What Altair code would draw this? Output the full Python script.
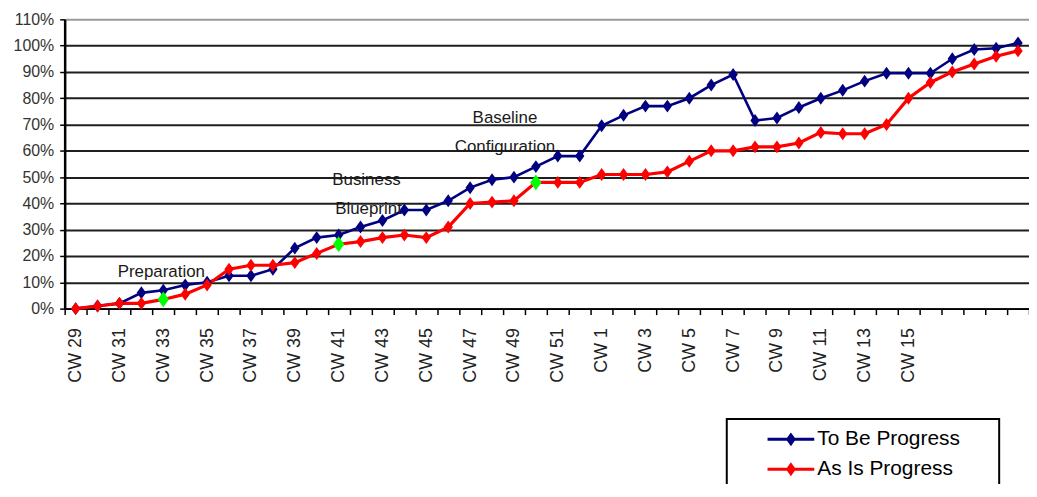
import altair as alt
import pandas as pd

# ---------------- data ----------------
WEEKS = ["CW 29", "CW 30", "CW 31", "CW 32", "CW 33", "CW 34", "CW 35", "CW 36",
         "CW 37", "CW 38", "CW 39", "CW 40", "CW 41", "CW 42", "CW 43", "CW 44",
         "CW 45", "CW 46", "CW 47", "CW 48", "CW 49", "CW 50", "CW 51", "CW 52",
         "CW 1", "CW 2", "CW 3", "CW 4", "CW 5", "CW 6", "CW 7", "CW 8",
         "CW 9", "CW 10", "CW 11", "CW 12", "CW 13", "CW 14", "CW 15", "CW 16",
         "CW 17", "CW 18", "CW 19", "CW 20"]
SHOWN_LABELS = ["CW 29", "CW 31", "CW 33", "CW 35", "CW 37", "CW 39", "CW 41",
                "CW 43", "CW 45", "CW 47", "CW 49", "CW 51", "CW 1", "CW 3",
                "CW 5", "CW 7", "CW 9", "CW 11", "CW 13", "CW 15"]
TO_BE = [0, 1, 2, 6, 7, 9, 10, 12.5, 12.5, 15, 23, 27, 28, 31, 33.5, 37.5,
         37.5, 41, 46, 49, 50, 54, 58, 58, 69.5, 73.5, 77, 77, 80, 85,
         89, 71.5, 72.5, 76.5, 80, 83, 86.5, 89.5, 89.5, 89.5, 95, 98.5, 99, 101]
AS_IS = [0, 1, 2, 2, 3.5, 5.5, 9, 15, 16.5, 16.5, 17.5, 21, 24.5, 25.5, 27, 28,
         27, 31, 40, 40.5, 41, 48, 48, 48, 51, 51, 51, 52, 56, 60,
         60, 61.5, 61.5, 63, 67, 66.5, 66.5, 70, 80, 86, 90, 93, 96, 98]
SERIES = ["To Be Progress", "As Is Progress"]
COLORS = ["#000080", "#FF0000"]
MILESTONE_WEEKS = ["CW 33", "CW 41", "CW 50"]
MILESTONE_VALUES = [3.5, 24.5, 48]
Y_TICKS = [0, 10, 20, 30, 40, 50, 60, 70, 80, 90, 100, 110]

# annotations: anchor week, value %, text, horizontal nudge
NOTE_WEEKS = ["CW 33", "CW 42", "CW 42", "CW 49", "CW 49"]
NOTE_VALUES = [14, 48.8, 38, 72.6, 61.6]
NOTE_TEXTS = ["Preparation", "Business", "Blueprint", "Baseline", "Configuration"]
NOTE_DX = [-2, 6, 8, -9, -9]

df = pd.DataFrame({
    "week": WEEKS * 2,
    "series": [SERIES[0]] * len(WEEKS) + [SERIES[1]] * len(WEEKS),
    "value": [v / 100 for v in TO_BE + AS_IS],
})
ms = pd.DataFrame({"week": MILESTONE_WEEKS, "value": [v / 100 for v in MILESTONE_VALUES]})

FONT = "Liberation Sans"
DIAMOND = "M0,-1L0.72,0L0,1L-0.72,0Z"
LEGEND_SYMBOL = "M-2.35,-0.15L2.35,-0.15L2.35,0.15L-2.35,0.15Z M0,-0.7L0.5,0L0,0.7L-0.5,0Z"

shown_expr = ("indexof([" + ",".join("'" + s + "'" for s in SHOWN_LABELS)
              + "], datum.value) >= 0 ? datum.value : ''")

x_enc = alt.X(
    "week:N", sort=WEEKS,
    scale=alt.Scale(type="band", domain=WEEKS, paddingInner=0, paddingOuter=0),
    axis=alt.Axis(
        title=None, labelAngle=-90, labelFontSize=18, labelFont=FONT, labelColor="#222222",
        labelExpr=shown_expr, labelPadding=13, tickBand="extent", tickSize=6,
        tickColor="#000000", tickWidth=1.5, domainColor="#000000", domainWidth=2,
        labelOverlap=False, grid=False,
    ),
)
y_enc = alt.Y(
    "value:Q",
    scale=alt.Scale(domain=[0, 1.1], nice=False, zero=True),
    axis=alt.Axis(
        title=None, values=[t / 100 for t in Y_TICKS], format=".0%", labelFontSize=16,
        labelFont=FONT, labelColor="#333333", labelPadding=6, tickSize=5,
        tickColor="#000000", tickWidth=1.5, domainColor="#000000", domainWidth=2.5,
        grid=True, gridWidth=2,
        gridColor=alt.condition("datum.value > 1.05", alt.value("#9a9a9a"), alt.value("#1e1e1e")),
    ),
)

base = alt.Chart(df)
layers = []
for name, col, sw in zip(SERIES, COLORS, [2.6, 3.2]):
    layers.append(
        base.transform_filter(alt.datum.series == name)
        .mark_line(strokeWidth=sw, color=col)
        .encode(x=x_enc, y=y_enc)
    )

points = base.mark_point(filled=True, shape=DIAMOND, size=170, opacity=1).encode(
    x=x_enc, y=y_enc,
    color=alt.Color(
        "series:N", scale=alt.Scale(domain=SERIES, range=COLORS),
        legend=alt.Legend(
            title=None, orient="none", legendX=666, legendY=402,
            symbolType=LEGEND_SYMBOL, symbolSize=400, symbolStrokeWidth=0,
            labelFontSize=21, labelFont=FONT, labelColor="#000000", labelLimit=600,
            labelExpr="datum.label + '\u00a0\u00a0\u00a0\u00a0\u00a0\u200b'",
            rowPadding=8, padding=10, strokeColor="#000000", fillColor="#ffffff",
            symbolOffset=44, labelOffset=16,
        ),
    ),
)
layers.append(points)

milestones = alt.Chart(ms).mark_point(filled=True, shape=DIAMOND, size=250, opacity=1,
                                      color="#00FF00").encode(x=x_enc, y=y_enc)
layers.append(milestones)

for wk, val, txt, dx in zip(NOTE_WEEKS, NOTE_VALUES, NOTE_TEXTS, NOTE_DX):
    ndf = pd.DataFrame({"week": [wk], "value": [val / 100], "text": [txt]})
    layers.append(
        alt.Chart(ndf).mark_text(fontSize=17, font=FONT, color="#1a1a1a", align="center",
                                 baseline="middle", dx=dx).encode(x=x_enc, y=y_enc, text="text:N")
    )

chart = alt.layer(*layers).properties(
    width=970, height=291,
    padding={"left": 57, "top": 10, "right": 0, "bottom": 175},
    autosize=alt.AutoSizeParams(type="none"),
    background="#ffffff",
).configure_view(stroke=None).configure_legend(strokeWidth=2)

chart.save("out.html", embed_options={"renderer": "svg", "actions": False})
